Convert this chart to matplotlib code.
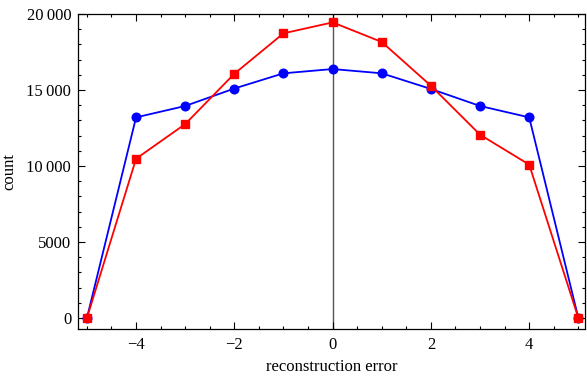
import numpy as np
import matplotlib.pyplot as plt
from matplotlib.ticker import MultipleLocator, FuncFormatter

# data
errors = [-5, -4, -3, -2, -1, 0, 1, 2, 3, 4, 5]
counts_blue = [0, 13200, 13950, 15100, 16100, 16380, 16100, 15070, 13950, 13200, 0]
counts_red = [0, 10480, 12760, 16070, 18730, 19450, 18160, 15280, 12060, 10090, 0]

plt.rcParams['font.family'] = ['Liberation Serif', 'DejaVu Serif']

fig = plt.figure(figsize=(5.87, 3.79), dpi=100)
ax = fig.add_axes([0.133, 0.132, 0.864, 0.831])

ax.axvline(0, color='#555555', lw=1.0, zorder=1)
ax.plot(errors, counts_blue, color='blue', lw=1.3, marker='o', ms=6.2, zorder=3)
ax.plot(errors, counts_red, color='red', lw=1.3, marker='s', ms=5.6, zorder=4)

ax.set_xlim(-5.18, 5.14)
ax.set_ylim(-720, 20000)
ax.xaxis.set_major_locator(MultipleLocator(2))
ax.xaxis.set_minor_locator(MultipleLocator(0.5))
ax.yaxis.set_major_locator(MultipleLocator(5000))
ax.yaxis.set_minor_locator(MultipleLocator(1000))


def fmt_y(v, pos):
    v = int(round(v))
    if v >= 10000:
        return f"{v // 1000}\u2009{v % 1000:03d}"
    return str(v)


ax.yaxis.set_major_formatter(FuncFormatter(fmt_y))
ax.xaxis.set_major_formatter(FuncFormatter(lambda v, p: f"{int(round(v))}".replace('-', '\u2212')))

ax.tick_params(which='both', direction='in', top=True, right=True, labelsize=12, width=0.8)
ax.tick_params(which='major', length=5)
ax.tick_params(which='minor', length=2.5)
ax.tick_params(axis='x', pad=6)
ax.tick_params(axis='y', pad=5)
for s in ax.spines.values():
    s.set_linewidth(0.9)

ax.set_xlabel('reconstruction error', fontsize=12, labelpad=4)
ax.set_ylabel('count', fontsize=12)
ax.yaxis.set_label_coords(-0.12, 0.5)

fig.savefig('out.png', dpi=100)
